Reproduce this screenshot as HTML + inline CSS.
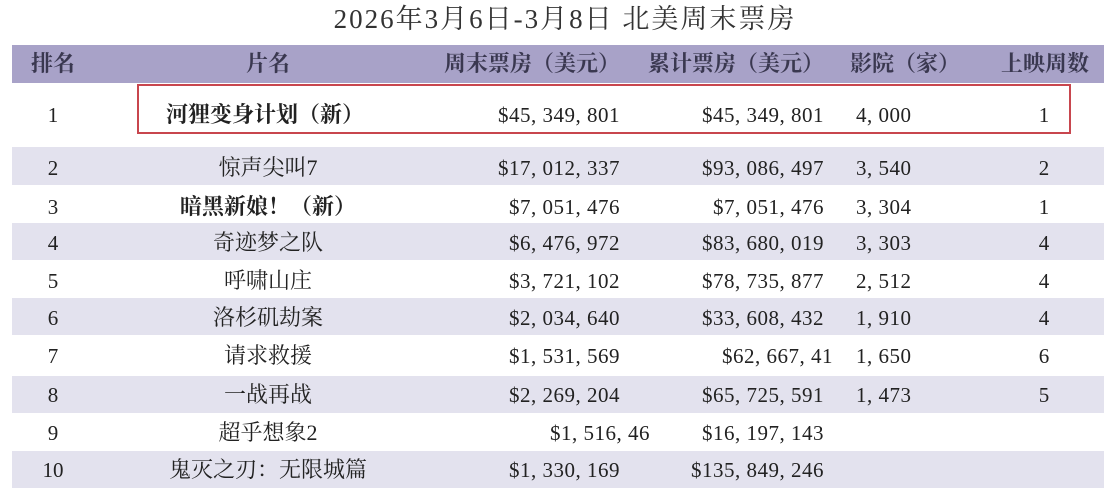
<!DOCTYPE html>
<html><head><meta charset="utf-8"><style>
body{margin:0;width:1108px;height:492px;background:#fff;position:relative;overflow:hidden;font-family:"Liberation Serif","Noto Serif CJK SC",serif;color:#222}
.t{position:absolute;white-space:nowrap;font-size:21px;line-height:22px}
.n{letter-spacing:0.5px}
.band{position:absolute;left:12px;width:1092px;background:#e3e2ee}
.c{transform:translateX(-50%)}
.r{transform:translateX(-100%)}
</style></head><body>
<div class="t c" style="left:565px;top:4px;font-size:27px;line-height:30px;letter-spacing:2px;color:#333">2026年3月6日-3月8日 北美周末票房</div>
<div style="position:absolute;left:12px;top:45px;width:1092px;height:38px;background:#a8a2c8"></div>
<div class="band" style="top:147px;height:38px"></div>
<div class="band" style="top:223px;height:37px"></div>
<div class="band" style="top:298px;height:37px"></div>
<div class="band" style="top:376px;height:37px"></div>
<div class="band" style="top:451px;height:37px"></div>
<div style="position:absolute;left:137px;top:84px;width:930px;height:46px;border:2px solid #c8464e"></div>
<div id="h"></div>
<script>
var hdr=[["排名",53,"c"],["片名",268,"c"],["周末票房（美元）",620,"r"],["累计票房（美元）",824,"r"],["影院（家）",905,"c"],["上映周数",1045,"c"]];
var s="";
hdr.forEach(function(h){s+='<div class="t '+h[2]+'" style="left:'+h[1]+'px;top:53px;font-size:22px;font-weight:bold;color:#3a3850">'+h[0]+'</div>';});
var rows=[
[115,"1","河狸变身计划（新）","$45, 349, 801","$45, 349, 801","4, 000","1",1],
[168,"2","惊声尖叫7","$17, 012, 337","$93, 086, 497","3, 540","2",0],
[207,"3","暗黑新娘！（新）","$7, 051, 476","$7, 051, 476","3, 304","1",1],
[243,"4","奇迹梦之队","$6, 476, 972","$83, 680, 019","3, 303","4",0],
[281,"5","呼啸山庄","$3, 721, 102","$78, 735, 877","2, 512","4",0],
[318,"6","洛杉矶劫案","$2, 034, 640","$33, 608, 432","1, 910","4",0],
[356,"7","请求救援","$1, 531, 569","$62, 667, 41","1, 650","6",0],
[395,"8","一战再战","$2, 269, 204","$65, 725, 591","1, 473","5",0],
[433,"9","超乎想象2","$1, 516, 46","$16, 197, 143","","",0],
[470,"10","鬼灭之刃：无限城篇","$1, 330, 169","$135, 849, 246","","",0]];
rows.forEach(function(r,i){
 var y=r[0]-11;
 s+='<div class="t c" style="left:53px;top:'+y+'px">'+r[1]+'</div>';
 if(i==0) s+='<div class="t" style="left:166px;top:'+y+'px;font-size:22px;font-weight:bold">'+r[2]+'</div>';
 else s+='<div class="t c" style="left:268px;top:'+y+'px;font-size:22px;'+(r[7]?'font-weight:bold':'')+'">'+r[2]+'</div>';
 var wr=(i==8)?650:620, cr=(i==6)?833:824;
 s+='<div class="t r n" style="left:'+wr+'px;top:'+y+'px">'+r[3]+'</div>';
 s+='<div class="t r n" style="left:'+cr+'px;top:'+y+'px">'+r[4]+'</div>';
 s+='<div class="t n" style="left:856px;top:'+y+'px">'+r[5]+'</div>';
 s+='<div class="t c" style="left:1044px;top:'+y+'px">'+r[6]+'</div>';
});
document.getElementById("h").innerHTML=s;
</script>
</body></html>
